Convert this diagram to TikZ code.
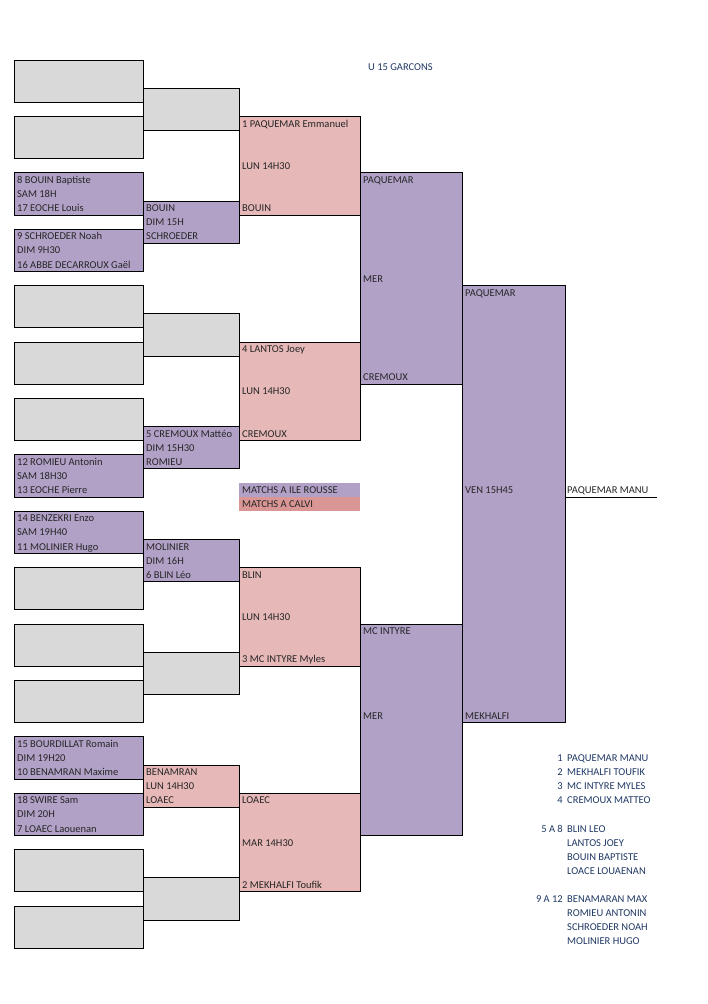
\documentclass[tikz,border=0pt]{standalone}
\usepackage{fontspec}
\setmainfont{Carlito}
\usepackage{tikz}
\usetikzlibrary{positioning}
\definecolor{gris}{HTML}{D9D9D9}
\definecolor{mauve}{HTML}{B2A1C7}
\definecolor{rose}{HTML}{E6B8B7}
\definecolor{rosefonce}{HTML}{DA9694}
\definecolor{marine}{HTML}{1F3864}
\tikzstyle{vide}=[draw,line width=1pt,fill=gris]
\tikzstyle{ile}=[draw,line width=1pt,fill=mauve]
\tikzstyle{calvi}=[draw,line width=1pt,fill=rose]
\tikzstyle{nom}=[anchor=base west,inner sep=0pt,yshift=-10.6pt,
        font=\fontsize{10.5}{12}\selectfont,text=black!85]
\tikzstyle{liste}=[nom,text=marine]
\tikzstyle{rang}=[liste,anchor=base east]

\begin{document}
\begin{tikzpicture}[x=1pt,y=-14.1pt]
\useasboundingbox (0pt,0pt) rectangle (708pt,-1004pt);
\begin{scope}[yshift=-60pt]
%Tableau vide
\foreach \k in {0,1,4,5,6,9,10,11,14,15}
  \draw[vide] (14,4*\k) rectangle (143,4*\k+3);
\foreach \j in {0,2,5,7}
  \draw[vide] (143,8*\j+2) rectangle (239,8*\j+5);
%Premier tour
\draw[ile] (14,8) rectangle (143,11);
\node[nom] (c1r8) at (17,8) {8 BOUIN Baptiste};
\node[nom] (c1r9) at (17,9) {SAM 18H};
\node[nom] (c1r10) at (17,10) {17 EOCHE Louis};
\draw[ile] (14,12) rectangle (143,15);
\node[nom] (c1r12) at (17,12) {9 SCHROEDER Noah};
\node[nom] (c1r13) at (17,13) {DIM 9H30};
\node[nom] (c1r14) at (17,14) {16 ABBE DECARROUX Gaël};
\draw[ile] (14,28) rectangle (143,31);
\node[nom] (c1r28) at (17,28) {12 ROMIEU Antonin};
\node[nom] (c1r29) at (17,29) {SAM 18H30};
\node[nom] (c1r30) at (17,30) {13 EOCHE Pierre};
\draw[ile] (14,32) rectangle (143,35);
\node[nom] (c1r32) at (17,32) {14 BENZEKRI Enzo};
\node[nom] (c1r33) at (17,33) {SAM 19H40};
\node[nom] (c1r34) at (17,34) {11 MOLINIER Hugo};
\draw[ile] (14,48) rectangle (143,51);
\node[nom] (c1r48) at (17,48) {15 BOURDILLAT Romain};
\node[nom] (c1r49) at (17,49) {DIM 19H20};
\node[nom] (c1r50) at (17,50) {10 BENAMRAN Maxime};
\draw[ile] (14,52) rectangle (143,55);
\node[nom] (c1r52) at (17,52) {18 SWIRE Sam};
\node[nom] (c1r53) at (17,53) {DIM 20H};
\node[nom] (c1r54) at (17,54) {7 LOAEC Laouenan};
%Huitiemes
\draw[ile] (143,10) rectangle (239,13);
\node[nom] (c2r10) at (146,10) {BOUIN};
\node[nom] (c2r11) at (146,11) {DIM 15H};
\node[nom] (c2r12) at (146,12) {SCHROEDER};
\draw[ile] (143,26) rectangle (239,29);
\node[nom] (c2r26) at (146,26) {5 CREMOUX Mattéo};
\node[nom] (c2r27) at (146,27) {DIM 15H30};
\node[nom] (c2r28) at (146,28) {ROMIEU};
\draw[ile] (143,34) rectangle (239,37);
\node[nom] (c2r34) at (146,34) {MOLINIER};
\node[nom] (c2r35) at (146,35) {DIM 16H};
\node[nom] (c2r36) at (146,36) {6 BLIN Léo};
\draw[calvi] (143,50) rectangle (239,53);
\node[nom] (c2r50) at (146,50) {BENAMRAN};
\node[nom] (c2r51) at (146,51) {LUN 14H30};
\node[nom] (c2r52) at (146,52) {LOAEC};
%Quarts
\draw[calvi] (239,4) rectangle (360,11);
\node[nom] (c3r4) at (242,4) {1 PAQUEMAR Emmanuel};
\node[nom] (c3r7) at (242,7) {LUN 14H30};
\node[nom] (c3r10) at (242,10) {BOUIN};
\draw[calvi] (239,20) rectangle (360,27);
\node[nom] (c3r20) at (242,20) {4 LANTOS Joey};
\node[nom] (c3r23) at (242,23) {LUN 14H30};
\node[nom] (c3r26) at (242,26) {CREMOUX};
\draw[calvi] (239,36) rectangle (360,43);
\node[nom] (c3r36) at (242,36) {BLIN};
\node[nom] (c3r39) at (242,39) {LUN 14H30};
\node[nom] (c3r42) at (242,42) {3 MC INTYRE Myles};
\draw[calvi] (239,52) rectangle (360,59);
\node[nom] (c3r52) at (242,52) {LOAEC};
\node[nom] (c3r55) at (242,55) {MAR 14H30};
\node[nom] (c3r58) at (242,58) {2 MEKHALFI Toufik};
%Demies et finale
\draw[ile] (360,8) rectangle (462,23);
\node[nom] (c4r8) at (363,8) {PAQUEMAR};
\node[nom] (c4r15) at (363,15) {MER};
\node[nom] (c4r22) at (363,22) {CREMOUX};
\draw[ile] (360,40) rectangle (462,55);
\node[nom] (c4r40) at (363,40) {MC INTYRE};
\node[nom] (c4r46) at (363,46) {MER};
\draw[ile] (462,16) rectangle (565,47);
\node[nom] (c5r16) at (465,16) {PAQUEMAR};
\node[nom] (c5r30) at (465,30) {VEN 15H45};
\node[nom] (c5r46) at (465,46) {MEKHALFI};
\node[nom] (vainqueur) at (567,30) {PAQUEMAR MANU};
\coordinate (fin) at (657,31);
\draw[line width=1pt] (vainqueur.base west |- fin) ++(-2,0) -- (fin);
%Legende
\fill[mauve] (239,30) rectangle (360,31);
\fill[rosefonce] (239,31) rectangle (360,32);
\node[nom] (ile) at (242,30) {MATCHS A ILE ROUSSE};
\node[nom] (calvi) at (242,31) {MATCHS A CALVI};
\node[liste] (titre) at (368,0) {U 15 GARCONS};
%Classement
\node[rang] (n1) at (563,49) {1};
\node[rang] (n2) at (563,50) {2};
\node[rang] (n3) at (563,51) {3};
\node[rang] (n4) at (563,52) {4};
\node[rang] (n5) at (563,54) {5 A 8};
\node[rang] (n9) at (563,59) {9 A 12};
\node[liste] (p1) at (567,49) {PAQUEMAR MANU};
\node[liste] (p2) at (567,50) {MEKHALFI TOUFIK};
\node[liste] (p3) at (567,51) {MC INTYRE MYLES};
\node[liste] (p4) at (567,52) {CREMOUX MATTEO};
\node[liste] (p5) at (567,54) {BLIN LEO};
\node[liste] (p6) at (567,55) {LANTOS JOEY};
\node[liste] (p7) at (567,56) {BOUIN BAPTISTE};
\node[liste] (p8) at (567,57) {LOACE LOUAENAN};
\node[liste] (p9) at (567,59) {BENAMARAN MAX};
\node[liste] (p10) at (567,60) {ROMIEU ANTONIN};
\node[liste] (p11) at (567,61) {SCHROEDER NOAH};
\node[liste] (p12) at (567,62) {MOLINIER HUGO};
\end{scope}
\end{tikzpicture}
\end{document}
